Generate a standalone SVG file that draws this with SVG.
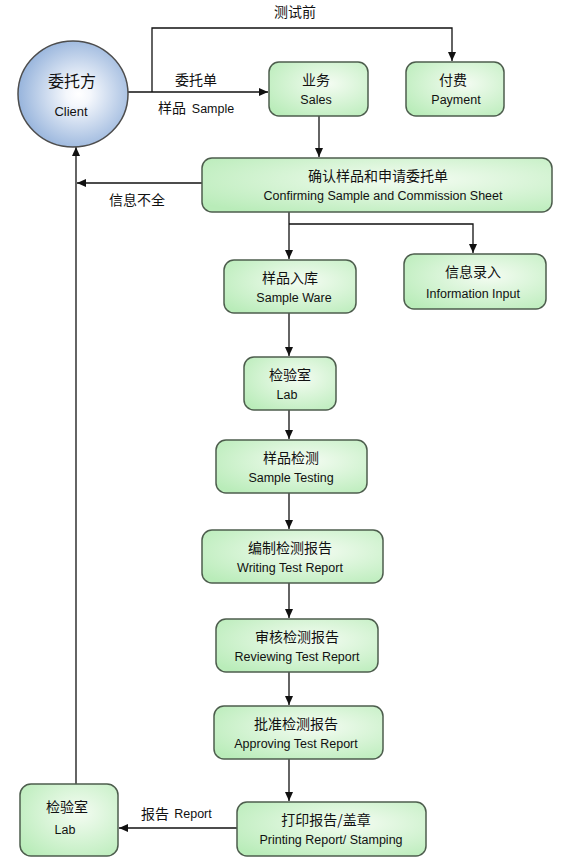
<svg xmlns="http://www.w3.org/2000/svg" width="582" height="859" viewBox="0 0 582 859">
<style>
.box{fill:url(#g);stroke:#4d5d4d;stroke-width:1.5}
.zh{font-family:"Noto Sans CJK SC","Noto Sans",sans-serif;font-size:14px;fill:#111;text-anchor:middle}
.en{font-family:"Liberation Sans","Noto Sans",sans-serif;font-size:12.5px;fill:#111;text-anchor:middle}
.ln{fill:none;stroke:#111;stroke-width:1.3}
</style>
<defs>
<radialGradient id="g" cx="0.6" cy="0.4" r="0.75">
<stop offset="0" stop-color="#f4fcf2"/>
<stop offset="1" stop-color="#b9ecb9"/>
</radialGradient>
<radialGradient id="gc" cx="0.55" cy="0.5" r="0.55">
<stop offset="0" stop-color="#ffffff"/>
<stop offset="0.2" stop-color="#f4f7fc"/>
<stop offset="1" stop-color="#97b4dc"/>
</radialGradient>
<marker id="a" markerWidth="10" markerHeight="10" refX="9" refY="5" orient="auto" markerUnits="userSpaceOnUse">
<path d="M0,1 L9,5 L0,9 Z" fill="#111"/>
</marker>
</defs>
<g id="connectors">
<path class="ln" d="M128,92 H268" marker-end="url(#a)"/>
<path class="ln" d="M152,92 V28 H452 V61" marker-end="url(#a)"/>
<path class="ln" d="M319,116 V157" marker-end="url(#a)"/>
<path class="ln" d="M202,183 H77" marker-end="url(#a)"/>
<path class="ln" d="M76,784 V147" marker-end="url(#a)"/>
<path class="ln" d="M289,212 V259" marker-end="url(#a)"/>
<path class="ln" d="M289,224 H473 V253" marker-end="url(#a)"/>
<path class="ln" d="M289,313 V356" marker-end="url(#a)"/>
<path class="ln" d="M289,410 V439" marker-end="url(#a)"/>
<path class="ln" d="M289,493 V529" marker-end="url(#a)"/>
<path class="ln" d="M289,583 V618" marker-end="url(#a)"/>
<path class="ln" d="M289,672 V705" marker-end="url(#a)"/>
<path class="ln" d="M289,759 V801" marker-end="url(#a)"/>
<path class="ln" d="M237,828 H119" marker-end="url(#a)"/>
<text class="zh" x="295" y="17">测试前</text>
<text class="zh" x="196" y="85">委托单</text>
<text class="zh" x="172" y="113">样品</text>
<text class="en" x="213" y="113">Sample</text>
<text class="zh" x="137" y="205">信息不全</text>
<text class="zh" x="155" y="819">报告</text>
<text class="en" x="193" y="818">Report</text>
</g>
<g id="client">
<ellipse cx="73" cy="94" rx="55" ry="53" fill="url(#gc)" stroke="#4d4d4d" stroke-width="1.5"/>
<text class="zh" x="72" y="87" style="font-size:16px">委托方</text>
<text class="en" x="71" y="116" style="font-size:13px">Client</text>
</g>
<g id="sales">
<rect class="box" x="269" y="62" width="99" height="54" rx="10"/>
<text class="zh" x="316" y="85">业务</text>
<text class="en" x="316" y="104">Sales</text>
</g>
<g id="payment">
<rect class="box" x="406" y="62" width="98" height="54" rx="10"/>
<text class="zh" x="453" y="85">付费</text>
<text class="en" x="456" y="104">Payment</text>
</g>
<g id="confirm">
<rect class="box" x="202" y="158" width="350" height="54" rx="10"/>
<text class="zh" x="378" y="181">确认样品和申请委托单</text>
<text class="en" x="383" y="200">Confirming Sample and Commission Sheet</text>
</g>
<g id="sampleware">
<rect class="box" x="224" y="260" width="132" height="53" rx="10"/>
<text class="zh" x="290" y="283">样品入库</text>
<text class="en" x="294" y="302">Sample Ware</text>
</g>
<g id="info">
<rect class="box" x="404" y="254" width="142" height="55" rx="10"/>
<text class="zh" x="473" y="277">信息录入</text>
<text class="en" x="473" y="298">Information Input</text>
</g>
<g id="lab1">
<rect class="box" x="244" y="357" width="92" height="53" rx="10"/>
<text class="zh" x="290" y="380">检验室</text>
<text class="en" x="287" y="399">Lab</text>
</g>
<g id="testing">
<rect class="box" x="216" y="440" width="151" height="53" rx="10"/>
<text class="zh" x="291" y="463">样品检测</text>
<text class="en" x="291" y="482">Sample Testing</text>
</g>
<g id="writing">
<rect class="box" x="202" y="530" width="181" height="53" rx="10"/>
<text class="zh" x="290" y="553">编制检测报告</text>
<text class="en" x="290" y="572">Writing Test Report</text>
</g>
<g id="reviewing">
<rect class="box" x="216" y="619" width="162" height="53" rx="10"/>
<text class="zh" x="297" y="642">审核检测报告</text>
<text class="en" x="297" y="661">Reviewing Test Report</text>
</g>
<g id="approving">
<rect class="box" x="214" y="706" width="169" height="53" rx="10"/>
<text class="zh" x="296" y="729">批准检测报告</text>
<text class="en" x="296" y="748">Approving Test Report</text>
</g>
<g id="printing">
<rect class="box" x="237" y="802" width="189" height="54" rx="10"/>
<text class="zh" x="326" y="825">打印报告/盖章</text>
<text class="en" x="331" y="844">Printing Report/ Stamping</text>
</g>
<g id="lab2">
<rect class="box" x="20" y="784" width="98" height="72" rx="11"/>
<text class="zh" x="67" y="812">检验室</text>
<text class="en" x="65" y="834">Lab</text>
</g>
</svg>
